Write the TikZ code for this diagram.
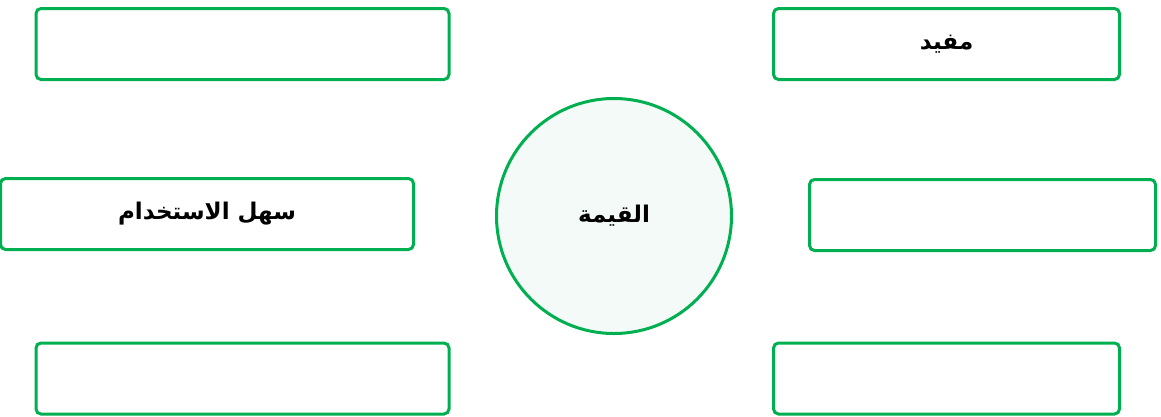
\documentclass[tikz,border=0pt]{standalone}
\usepackage{fontspec}
\usepackage{tikz}
\usetikzlibrary{positioning}
\TeXXeTstate=1
\newfontfamily\arabicfont[Script=Arabic]{DejaVu Sans}
\definecolor{valuegreen}{HTML}{00B050}
\definecolor{valuefill}{HTML}{F4FAF8}
\tikzset{
    featbox/.style={rectangle, draw=valuegreen, line width=3pt, fill=white, rounded corners=5pt, align=center, font=\arabicfont\bfseries\fontsize{23}{26}\selectfont},
    widebox/.style={featbox, minimum width=413pt, minimum height=71pt},
    narrowbox/.style={featbox, minimum width=346pt, minimum height=71pt},
    centercircle/.style={circle, draw=valuegreen, line width=3pt, fill=valuefill, minimum size=235pt, font=\arabicfont\bfseries\fontsize{23}{26}\selectfont}
}
\begin{document}
\begin{tikzpicture}[x=1pt, y=-1pt]
        \useasboundingbox (0,0) rectangle (1161,416);
        \node[centercircle] (value) at (614,216) {\beginR القيمة\endR};
        \node[widebox] (tl) at (242.5,44) {};
        \node[widebox] (ml) at (207,214) {\beginR سهل الاستخدام\endR};
        \node[widebox] (bl) at (242.5,378.5) {};
        \node[narrowbox] (tr) at (946.5,44) {\beginR مفيد\endR};
        \node[narrowbox] (mr) at (982.5,215) {};
        \node[narrowbox] (br) at (946.5,378.5) {};
    \end{tikzpicture}
\end{document}
